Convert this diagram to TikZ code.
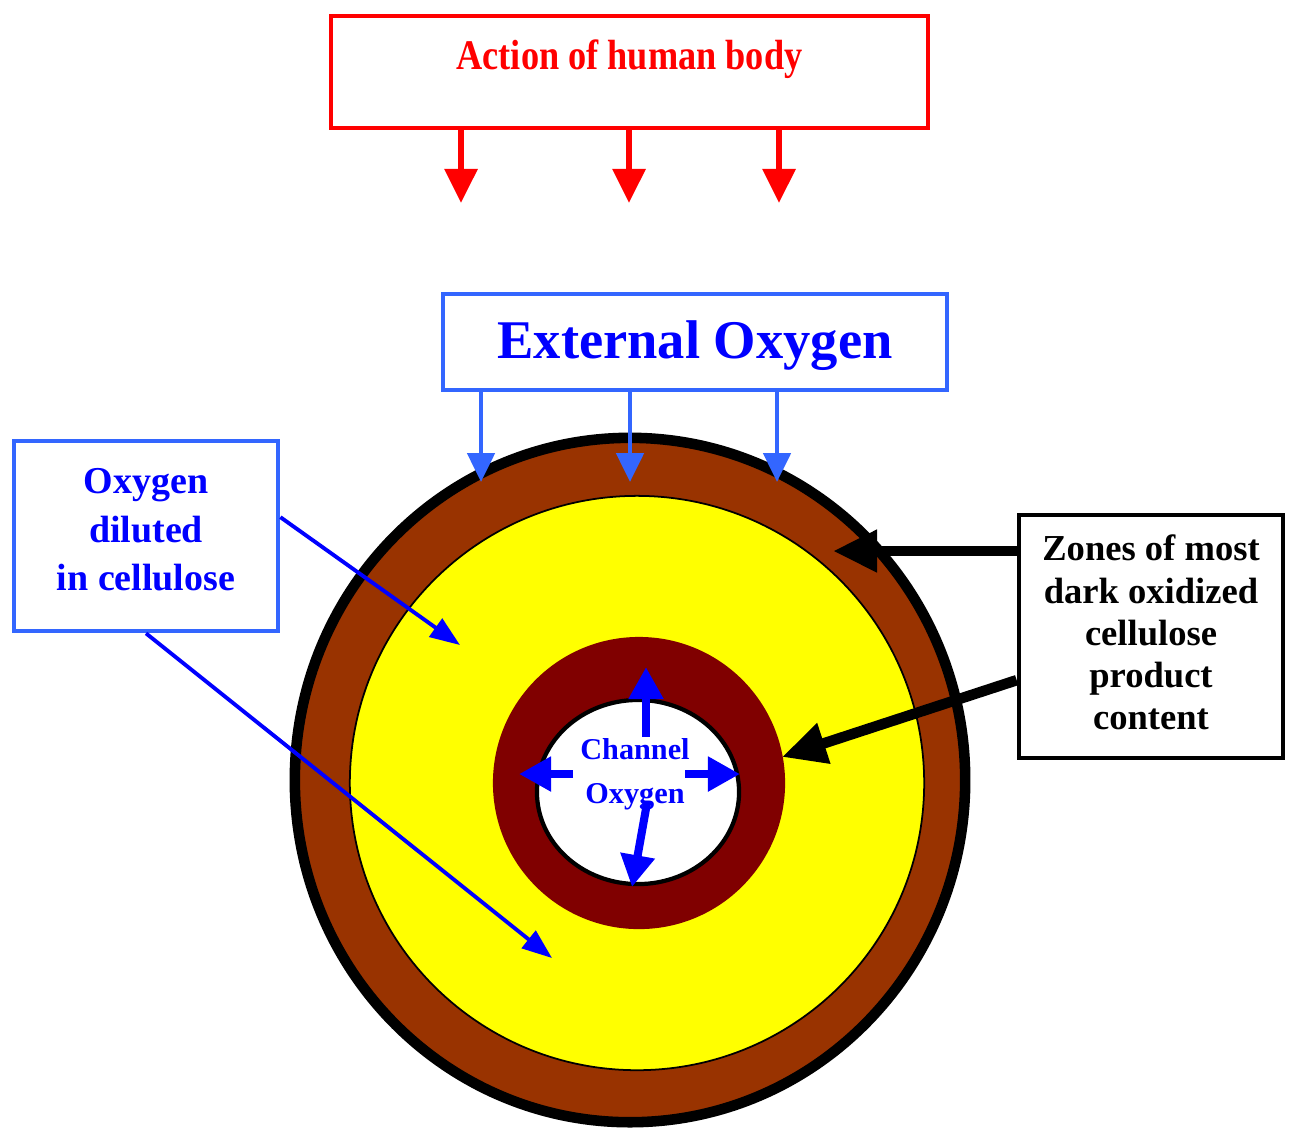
\documentclass[tikz,border=0pt]{standalone}
\usepackage{fontspec}
\setmainfont{Liberation Serif}
\newfontfamily\narrowserif{Liberation Serif}[FakeStretch=0.86]
\usetikzlibrary{positioning, arrows.meta}

\definecolor{boxblue}{RGB}{51,102,255}
\definecolor{oxblue}{RGB}{0,0,255}
\definecolor{rust}{RGB}{153,51,0}
\definecolor{maroon}{RGB}{128,0,0}
\definecolor{pureyellow}{RGB}{255,255,0}

\begin{document}
\begin{tikzpicture}[x=0.01cm, y=-0.01cm,
    framebox/.style={draw, line width=1.3pt, inner sep=0pt},
    boxtext/.style={anchor=center, align=center, font=\bfseries#1},
    redarrow/.style={red, line width=1.7pt, -{Triangle[length=0.34cm, width=0.32cm]}},
    extarrow/.style={boxblue, line width=1.4pt, -{Triangle[length=0.29cm, width=0.27cm]}},
    diarrow/.style={oxblue, line width=1.1pt, -{Triangle[length=0.30cm, width=0.22cm]}},
    chanarrow/.style={oxblue, line width=2.3pt, -{Triangle[length=0.32cm, width=0.33cm]}},
    zonearrow/.style={black, line width=3pt, -{Triangle[length=0.44cm, width=0.40cm]}}]
  \useasboundingbox (0,0) rectangle (1289,1129);
  % rings of the fibre
  \draw[line width=3pt, fill=rust] (630,780) ellipse (3.35cm and 3.42cm);
  \draw[line width=0.5pt, fill=pureyellow] (637,783) circle (2.87cm);
  \fill[maroon] (639,783) circle (1.46cm);
  \draw[line width=1.2pt, fill=white] (638,792) ellipse (1.01cm and 0.92cm);

  % boxes
  \node (action) [framebox, draw=red, minimum width=5.97cm, minimum height=1.12cm,
    label={[boxtext=\narrowserif\fontsize{12}{14}\selectfont, yshift=-0.45cm, text=red]north:Action of human body}] at (629.5,72) {};
  \node (ext) [framebox, draw=boxblue, minimum width=5.04cm, minimum height=0.96cm,
    label={[boxtext=\fontsize{15.5}{18}\selectfont, yshift=-0.04cm, text=oxblue]center:External Oxygen}] at (695,342) {};
  \node (dil) [framebox, draw=boxblue, minimum width=2.64cm, minimum height=1.90cm,
    label={[boxtext=\fontsize{10.8}{13.8}\selectfont, yshift=0.06cm, text=oxblue]center:Oxygen\\diluted\\in cellulose}] at (146,536) {};
  \node (zone) [framebox, minimum width=2.64cm, minimum height=2.43cm,
    label={[boxtext=\fontsize{10.4}{12}\selectfont, yshift=0.04cm]center:Zones of most\\dark oxidized\\cellulose\\product\\content}] at (1151,636.5) {};
  \node (chan) [text=oxblue, align=center, font=\bfseries\fontsize{8.6}{12.5}\selectfont] at (635,774) {Channel\\Oxygen};

  % action of the body and outside oxygen
  \foreach \x [count=\i] in {461,629,779} {
    \coordinate (hb\i) at (\x,203);
    \draw[redarrow] (action.south -| hb\i) -- (hb\i);
  }
  \foreach \x [count=\i] in {481,630,777} {
    \coordinate (eo\i) at (\x,482);
    \draw[extarrow] (ext.south -| eo\i) -- (eo\i);
  }

  % diluted oxygen
  \coordinate (d1) at (460,645);
  \coordinate (d2) at (552,958);
  \draw[diarrow] (dil.8) -- (d1);
  \draw[diarrow] (dil.south) -- (d2);

  % oxidized zones
  \coordinate (z1) at (833,551);
  \coordinate (z2) at (782,757);
  \draw[zonearrow] (zone.west |- z1) -- (z1);
  \draw[zonearrow] (zone.198) -- (z2);

  % oxygen from the channel
  \coordinate (cu) at (646,737);  \coordinate (tu) at (646,667);
  \coordinate (cl) at (573,774);  \coordinate (tl) at (519,774);
  \coordinate (cr) at (685,774);  \coordinate (tr) at (740,774);
  \coordinate (cd) at (647,803);  \coordinate (td) at (632,887);
  \foreach \a/\b in {cu/tu, cl/tl, cr/tr, cd/td}
    \draw[chanarrow] (\a) -- (\b);
\end{tikzpicture}
\end{document}
